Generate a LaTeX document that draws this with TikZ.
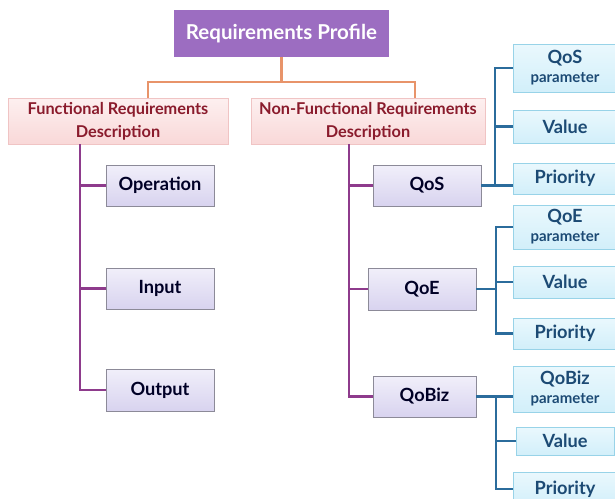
\documentclass[tikz,border=0pt]{standalone}
\usepackage{fontspec}
\setmainfont{Lato}[Ligatures={Common,Rare}]
\usetikzlibrary{calc}
\definecolor{rootfill}{HTML}{9C6DC1}
\definecolor{rootline}{HTML}{E8946A}
\definecolor{pinktop}{HTML}{FDF0F0}
\definecolor{pinkbot}{HTML}{F9D8D8}
\definecolor{pinkline}{HTML}{F0C4C4}
\definecolor{redtext}{HTML}{8A1B2C}
\definecolor{lavtop}{HTML}{F1EFFA}
\definecolor{lavbot}{HTML}{D8D3EF}
\definecolor{lavline}{HTML}{8C8A98}
\definecolor{trunk}{HTML}{8E3B8C}
\definecolor{bluetop}{HTML}{EAF8FD}
\definecolor{bluebot}{HTML}{D2EFFA}
\definecolor{blueline}{HTML}{98D3E8}
\definecolor{bluetext}{HTML}{1C4A74}
\definecolor{branch}{HTML}{2B6C9C}
\newcommand{\paramword}[1]{{\fontsize{15}{17}\selectfont #1}}
\begin{document}
\begin{tikzpicture}[x=1pt,y=-1pt,
  every node/.style={inner sep=0pt,outer sep=0pt,align=center,font=\bfseries},
  rootbox/.style={fill=rootfill,draw=none,text=white,font=\bfseries\fontsize{20.5}{24}\selectfont},
  reqbox/.style={top color=pinktop,bottom color=pinkbot,draw=pinkline,line width=0.8pt,text=redtext,
    font=\bfseries\fontsize{16.3}{23}\selectfont},
  attrbox/.style={top color=lavtop,bottom color=lavbot,draw=lavline,line width=0.8pt,text=black!85!blue,
    font=\bfseries\fontsize{18.2}{21}\selectfont},
  leafbox/.style={top color=bluetop,bottom color=bluebot,draw=blueline,line width=0.8pt,text=bluetext,
    font=\bfseries\fontsize{18.2}{20}\selectfont},
  rootlink/.style={draw=rootline,line width=2.2pt},
  trunklink/.style={draw=trunk,line width=2.4pt},
  branchlink/.style={draw=branch,line width=2.4pt}]
\useasboundingbox (0,0) rectangle (615,498);

% root
\node[rootbox,minimum width=215pt,minimum height=47pt] (root) at (281.5,33.5) {Requirements Profile};

% requirement descriptions
\node[reqbox,minimum width=220pt,minimum height=46pt] (fr) at (118,121) {Functional Requirements\\Description};
\node[reqbox,minimum width=234pt,minimum height=46pt] (nfr) at (368,121) {Non-Functional Requirements\\Description};

% functional attributes
\node[attrbox,minimum width=108pt,minimum height=41pt] (op) at (160,185.5) {Operation};
\node[attrbox,minimum width=108pt,minimum height=41pt] (in) at (160,288.5) {Input};
\node[attrbox,minimum width=108pt,minimum height=42pt] (out) at (160,390) {Output};

% non-functional attributes
\node[attrbox,minimum width=108pt,minimum height=41pt] (qos) at (427,185.5) {QoS};
\node[attrbox,minimum width=108pt,minimum height=42pt] (qoe) at (422,289) {QoE};
\node[attrbox,minimum width=103pt,minimum height=41pt] (qobiz) at (424.5,396.5) {QoBiz};

% QoS leaves
\node[leafbox,minimum width=104pt,minimum height=48pt] (qosp) at (565,68) {QoS\\[-1pt]\paramword{parameter}};
\node[leafbox,minimum width=104pt,minimum height=33pt] (qosv) at (565,126.5) {Value};
\node[leafbox,minimum width=104pt,minimum height=31pt] (qosr) at (565,178.5) {Priority};

% QoE leaves
\node[leafbox,minimum width=104pt,minimum height=44pt] (qoep) at (565,227) {QoE\\[-1pt]\paramword{parameter}};
\node[leafbox,minimum width=104pt,minimum height=32pt] (qoev) at (565,282) {Value};
\node[leafbox,minimum width=104pt,minimum height=31pt] (qoer) at (565,333.5) {Priority};

% QoBiz leaves
\node[leafbox,minimum width=104pt,minimum height=46pt] (qbp) at (565,389) {QoBiz\\[-1pt]\paramword{parameter}};
\node[leafbox,minimum width=98pt,minimum height=28pt] (qbv) at (565,441) {Value};
\node[leafbox,minimum width=104pt,minimum height=34pt] (qbr) at (565,489) {Priority};

% root to descriptions
\coordinate (frtop) at ([xshift=30pt]fr.north);
\coordinate (nfrtop) at ([xshift=47pt]nfr.north);
\draw[rootlink] (root.south) -- ++(0,25) coordinate (rootmid);
\draw[rootlink] (frtop) |- (rootmid) -| (nfrtop);

% functional trunk
\coordinate (ftrunk) at ([xshift=-38pt]fr.south);
\draw[trunklink] (ftrunk) |- (out.west);
\draw[trunklink] (op.west) -- (op.west -| ftrunk);
\draw[trunklink] (in.west) -- (in.west -| ftrunk);

% non-functional trunk
\coordinate (ntrunk) at ([xshift=-19pt]nfr.south);
\draw[trunklink] (ntrunk) |- (qobiz.west);
\draw[trunklink] (qos.west) -- (qos.west -| ntrunk);
\draw[trunklink] (qoe.west) -- (qoe.west -| ntrunk);

% QoS branches
\coordinate (qsb) at ([xshift=14pt]qos.east);
\draw[branchlink] (qos.east) -- (qos.east -| qosr.west);
\draw[branchlink] (qsb) |- (qosp.west);
\draw[branchlink] (qsb |- qosv.west) -- (qosv.west);

% QoE branches
\coordinate (qeb) at ([xshift=20pt]qoe.east);
\draw[branchlink] (qoe.east) -- (qeb);
\draw[branchlink] (qoev.west) -- (qoev.west -| qeb);
\draw[branchlink] (qoep.west) -| (qeb) |- (qoer.west);

% QoBiz branches
\coordinate (qbb) at ([xshift=20pt]qobiz.east);
\draw[branchlink] (qobiz.east) -- (qobiz.east -| qbp.west);
\draw[branchlink] (qbv.west) -- (qbv.west -| qbb);
\draw[branchlink] (qbb) |- (qbr.west);
\end{tikzpicture}
\end{document}
